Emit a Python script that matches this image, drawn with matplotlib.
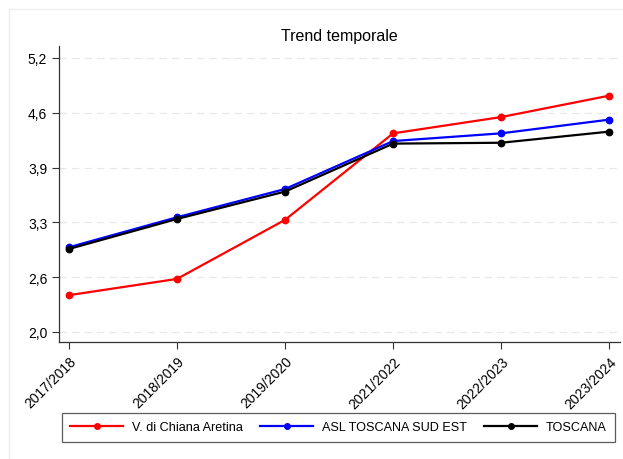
import matplotlib
matplotlib.use("Agg")
import matplotlib.pyplot as plt
import numpy as np
from matplotlib.lines import Line2D

plt.rcParams['font.family'] = ['Liberation Sans', 'DejaVu Sans']

categories = ["2017/2018", "2018/2019", "2019/2020", "2021/2022", "2022/2023", "2023/2024"]
chiana = [2.43, 2.62, 3.31, 4.32, 4.51, 4.76]
asl = [2.99, 3.34, 3.67, 4.23, 4.32, 4.48]
toscana = [2.97, 3.32, 3.64, 4.20, 4.21, 4.34]
series_names = ["V. di Chiana Aretina", "ASL TOSCANA SUD EST", "TOSCANA"]
colors = ["#ff0000", "#0000ff", "#000000"]
yticks = [2.0, 2.64, 3.28, 3.92, 4.56, 5.2]

W, H = 623, 460
fig = plt.figure(figsize=(W/100, H/100), dpi=100)
fig.patch.set_facecolor("white")

# faint outer region border
fig.add_artist(Line2D([9/W, 9/W], [0, 1-10/H], transform=fig.transFigure, color="#eeeeee", lw=1))
fig.add_artist(Line2D([9/W, 1], [1-10/H, 1-10/H], transform=fig.transFigure, color="#eeeeee", lw=1))

ax = fig.add_axes([59/W, 1-343/H, (620-59)/W, (343-47)/H])

x = np.arange(len(categories))
for vals, c, name in zip([chiana, asl, toscana], colors, series_names):
    ax.plot(x, vals, color=c, lw=1.6, marker="o", ms=4.6, label=name)

ax.set_xlim(-0.093, 5.10)
ax.set_ylim(1.883, 5.34)
ax.set_yticks(yticks)
ax.set_yticklabels([f"{v:.1f}".replace(".", ",") for v in yticks], fontsize=10)
ax.set_xticks(x)
ax.set_xticklabels(categories, rotation=45, ha="right", rotation_mode="anchor", fontsize=10)
ax.tick_params(axis="both", length=5, width=0.8, color="#333333")
ax.grid(axis="y", color="#e8e8e8", ls=(0, (6, 4)), lw=0.9)
ax.set_axisbelow(True)
for s in ["top", "right"]:
    ax.spines[s].set_visible(False)
for s in ["left", "bottom"]:
    ax.spines[s].set_color("#333333")
    ax.spines[s].set_linewidth(0.9)

ax.set_title("Trend temporale", fontsize=11.5, pad=4)

handles = [Line2D([0], [0], color=c, lw=1.6, marker="o", ms=4) for c in colors]
leg = fig.legend(handles, series_names, loc="center", bbox_to_anchor=(338.5/W, 1-428.5/H),
                 ncol=3, fontsize=9.1, frameon=True, fancybox=False, edgecolor="#333333",
                 handlelength=4.2, handletextpad=0.7, columnspacing=1.35, borderpad=0.65,
                 borderaxespad=0)
leg.get_frame().set_linewidth(0.9)

fig.savefig("out.png", dpi=100, facecolor="white")
